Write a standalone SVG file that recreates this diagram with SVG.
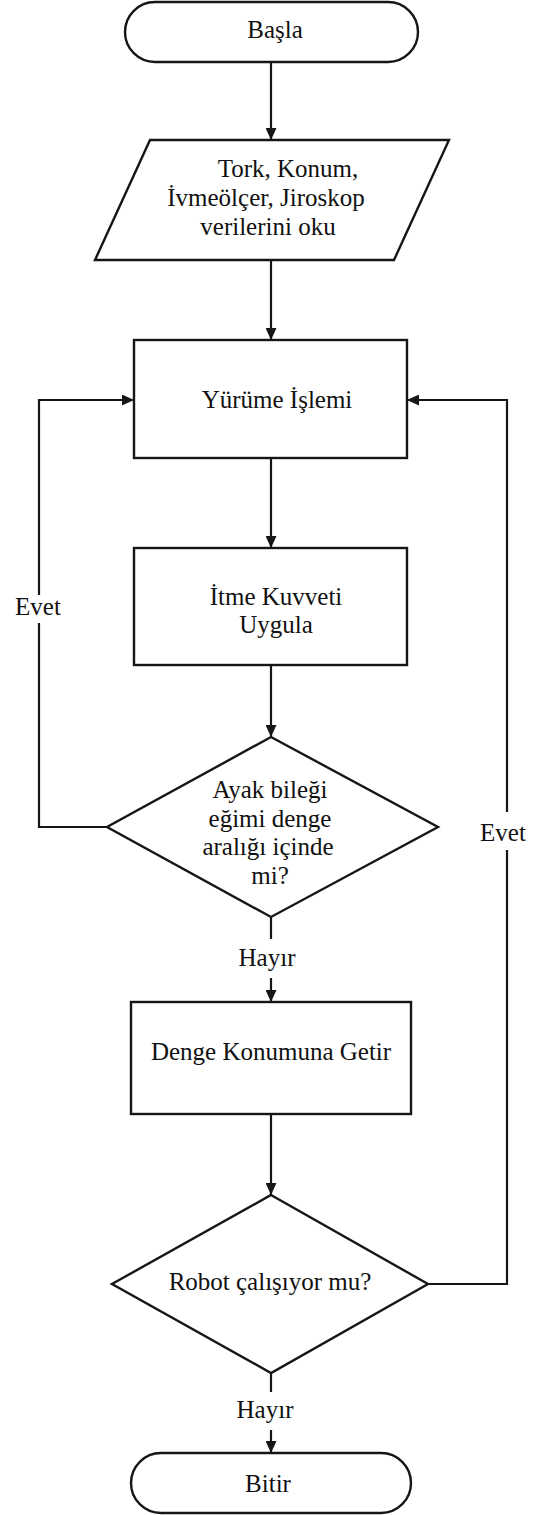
<svg xmlns="http://www.w3.org/2000/svg" width="543" height="1515" viewBox="0 0 543 1515">
  <style>
    .shape { fill: #ffffff; stroke: #161616; stroke-width: 2.4; }
    .conn { fill: none; stroke: #161616; stroke-width: 2.2; }
    .lbl { font-family: 'Liberation Serif', 'DejaVu Serif', serif; font-size: 25px; fill: #111111; text-anchor: middle; }
  </style>
  <defs>
    <marker id="arrow" viewBox="0 0 12 11" refX="12" refY="5.5" markerWidth="12" markerHeight="11" markerUnits="userSpaceOnUse" orient="auto">
      <path d="M0,0 L12,5.5 L0,11 z" fill="#161616"/>
    </marker>
  </defs>
  <rect width="543" height="1515" fill="#ffffff"/>

  <!-- connectors -->
  <g id="connectors">
    <path class="conn" d="M271,62 V140" marker-end="url(#arrow)"/>
    <path class="conn" d="M271,260 V340" marker-end="url(#arrow)"/>
    <path class="conn" d="M271,458 V548" marker-end="url(#arrow)"/>
    <path class="conn" d="M271,665 V737" marker-end="url(#arrow)"/>
    <!-- yes branch of the ankle check, back to walking -->
    <path class="conn" d="M107,827 H39 V623"/>
    <path class="conn" d="M39,595 V400 H134" marker-end="url(#arrow)"/>
    <text class="lbl" x="38" y="615">Evet</text>
    <!-- no branch of the ankle check -->
    <path class="conn" d="M271,917 V939"/>
    <path class="conn" d="M271,978 V1002" marker-end="url(#arrow)"/>
    <text class="lbl" x="267" y="966">Hayır</text>
    <path class="conn" d="M271,1114 V1195" marker-end="url(#arrow)"/>
    <!-- robot still running: loop back -->
    <path class="conn" d="M428,1284 H507 V850"/>
    <path class="conn" d="M507,812 V400 H407" marker-end="url(#arrow)"/>
    <text class="lbl" x="503" y="841">Evet</text>
    <!-- robot stopped -->
    <path class="conn" d="M271,1373 V1392"/>
    <path class="conn" d="M271,1430 V1453" marker-end="url(#arrow)"/>
    <text class="lbl" x="265" y="1418">Hayır</text>
  </g>

  <g id="start">
    <rect class="shape" x="125" y="2" width="293" height="60" rx="30" ry="30"/>
    <text class="lbl" x="275" y="38">Başla</text>
  </g>

  <g id="read-sensors">
    <polygon class="shape" points="150,140 449,140 394,260 95,260"/>
    <text class="lbl" x="288" y="177">Tork, Konum,</text>
    <text class="lbl" x="266" y="206">İvmeölçer, Jiroskop</text>
    <text class="lbl" x="268" y="235">verilerini oku</text>
  </g>

  <g id="walk">
    <rect class="shape" x="134" y="340" width="273" height="118"/>
    <text class="lbl" x="277" y="408">Yürüme İşlemi</text>
  </g>

  <g id="push">
    <rect class="shape" x="134" y="548" width="273" height="117"/>
    <text class="lbl" x="276" y="605">İtme Kuvveti</text>
    <text class="lbl" x="276" y="633">Uygula</text>
  </g>

  <g id="ankle-check">
    <polygon class="shape" points="271,737 438,827 271,917 107,827"/>
    <text class="lbl" x="270" y="798">Ayak bileği</text>
    <text class="lbl" x="270" y="827">eğimi denge</text>
    <text class="lbl" x="268" y="855">aralığı içinde</text>
    <text class="lbl" x="270" y="884">mi?</text>
  </g>

  <g id="restore-balance">
    <rect class="shape" x="131" y="1002" width="280" height="112"/>
    <text class="lbl" x="271" y="1060">Denge Konumuna Getir</text>
  </g>

  <g id="running-check">
    <polygon class="shape" points="271,1195 428,1284 271,1373 112,1284"/>
    <text class="lbl" x="270" y="1290">Robot çalışıyor mu?</text>
  </g>

  <g id="end">
    <rect class="shape" x="131" y="1453" width="280" height="60" rx="30" ry="30"/>
    <text class="lbl" x="268" y="1492">Bitir</text>
  </g>
</svg>
